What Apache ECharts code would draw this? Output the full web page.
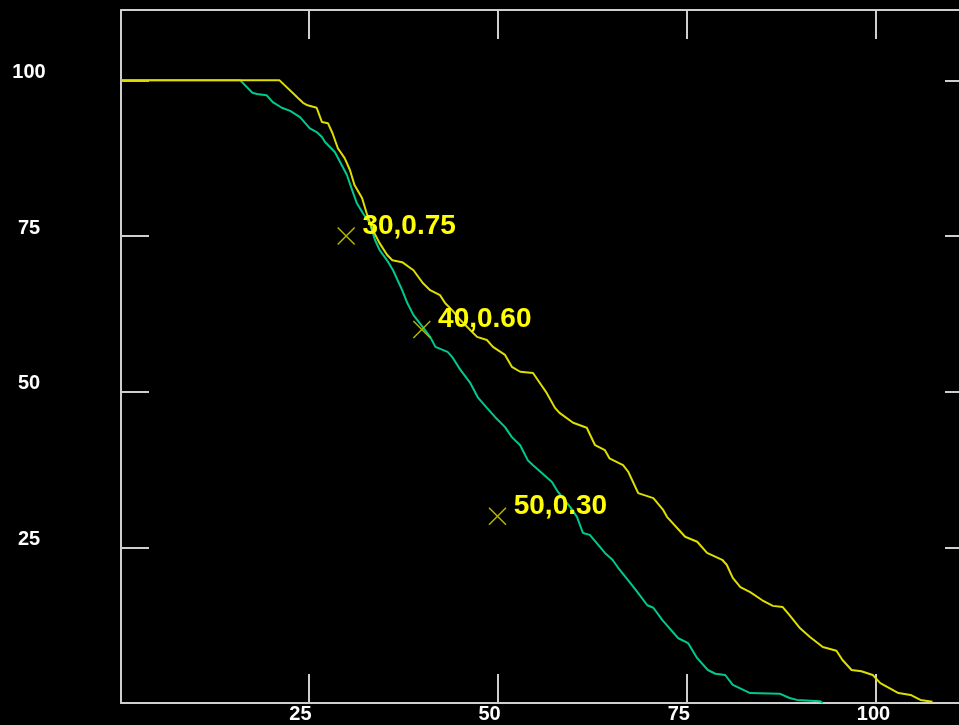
<!DOCTYPE html>
<html>
<head>
<meta charset="utf-8">
<script src="https://cdn.jsdelivr.net/npm/echarts@6/dist/echarts.min.js"></script>
<style>
html,body{margin:0;padding:0;background:#000;}
#chart{width:959px;height:725px;}
</style>
</head>
<body>
<div id="chart"></div>
<script>
// Yellow curve [x, y]
const yellowX = [0.24,21.2,23.6,24.3,24.9,26.1,26.8,27.6,28.2,28.9,29.8,30.5,31.1,32.1,32.7,33.5,34.4,35.4,36.1,37.4,38.9,40.1,41.1,42.4,43.1,44.0,45.1,46.4,47.3,48.6,49.4,51.0,51.9,53.0,54.7,55.6,56.5,57.6,58.2,60.0,61.8,62.9,64.2,64.8,66.6,67.3,68.6,70.6,71.9,72.4,74.2,74.8,76.4,77.7,79.7,80.3,81.1,82.1,83.4,85.0,86.4,87.7,88.6,90.0,91.3,93.0,94.8,95.6,96.8,98.1,99.6,100.6,101.5,103.0,104.6,105.9,107.5];
const yellowY = [100,100,97.2,96.4,96.0,95.6,93.3,93.1,91.5,89.1,87.5,85.6,83.2,81.1,78.7,76.0,73.9,72.0,71.1,70.8,69.5,67.5,66.3,65.5,64.2,63.1,61.5,59.9,58.8,58.3,57.2,55.9,54.0,53.2,53.0,51.4,49.8,47.4,46.6,45.0,44.2,41.4,40.6,39.3,38.2,37.1,33.7,32.9,31.0,29.9,27.5,26.7,25.9,24.1,23.0,22.2,20.1,18.6,17.8,16.5,15.6,15.4,14.1,12.0,10.6,9.0,8.4,6.9,5.3,5.1,4.5,3.2,2.6,1.6,1.3,0.5,0.2];
// Green curve [x, y]
const greenX = [0.24,16.0,17.6,18.2,19.5,20.3,21.5,22.6,23.9,25.2,26.1,26.8,27.2,28.5,29.2,30.1,30.7,31.4,32.2,33.1,33.8,34.4,35.4,36.2,37.4,38.1,38.9,40.1,41.1,41.8,43.4,44.0,45.1,46.4,47.4,48.6,49.7,51.0,51.9,53.0,54.0,54.7,55.9,57.2,58.0,59.6,60.5,61.3,62.2,63.1,64.2,65.2,65.9,67.2,68.5,69.8,70.6,71.8,72.6,73.9,75.2,76.4,77.8,78.8,80.1,81.1,82.5,83.4,87.3,88.6,89.6,92.6,93.0];
const greenY = [100,100,98.0,97.8,97.6,96.5,95.6,95.1,94.1,92.3,91.7,90.9,90.1,88.5,86.9,84.8,82.7,80.3,78.7,77.1,74.4,72.8,71.1,69.5,66.3,64.2,62.3,60.4,58.8,57.2,56.4,55.6,53.5,51.4,49.1,47.4,45.9,44.3,42.7,41.4,39.0,38.2,36.9,35.5,33.9,31.5,29.9,27.3,27.0,25.7,24.1,23.0,21.8,19.8,17.8,15.7,15.3,13.3,12.2,10.4,9.6,7.2,5.3,4.7,4.5,2.9,2.1,1.6,1.5,0.8,0.5,0.3,0];
// Annotated points
const annotX = [30,40,50];
const annotY = [75,60,30];
const annotLabels = ['30,0.75','40,0.60','50,0.30'];
// Axis ticks
const xTicks = [25,50,75,100];
const yTicks = [25,50,75,100];

const zip = (a,b) => a.map((v,i)=>[v,b[i]]);
const axisGray = '#cfcfcf';
const labelFont = {color:'#ffffff', fontFamily:'Liberation Sans', fontWeight:'bold', fontSize:20};
const xMin = 0.24, xMax = 111.0;

const chart = echarts.init(document.getElementById('chart'));
chart.setOption({
  backgroundColor:'#000000',
  animation:false,
  grid:{left:121, top:10, right:0, bottom:22, containLabel:false},
  xAxis:[{
    type:'value', position:'bottom', min:xMin, max:xMax,
    axisLine:{show:true, onZero:false, lineStyle:{color:axisGray, width:2}},
    axisTick:{show:true, inside:true, length:29, customValues:xTicks, lineStyle:{color:axisGray, width:2}},
    splitLine:{show:false},
    axisLabel:Object.assign({margin:1, align:'left', padding:[0,0,0,-19], customValues:xTicks,
      formatter:v => String(v)}, labelFont)
  },{
    type:'value', position:'top', min:xMin, max:xMax,
    axisLine:{show:true, onZero:false, lineStyle:{color:axisGray, width:2}},
    axisTick:{show:true, inside:true, length:29, customValues:xTicks, lineStyle:{color:axisGray, width:2}},
    splitLine:{show:false}, axisLabel:{show:false}
  }],
  yAxis:[{
    type:'value', position:'left', min:0, max:111.3, interval:25,
    axisLine:{show:true, onZero:false, lineStyle:{color:axisGray, width:2}},
    axisTick:{show:true, inside:true, length:28, lineStyle:{color:axisGray, width:2}},
    splitLine:{show:false},
    axisLabel:Object.assign({margin:92, align:'center', verticalAlign:'bottom', lineHeight:16,
      formatter:v => yTicks.includes(v) ? String(v) : '', showMinLabel:false, showMaxLabel:false}, labelFont)
  },{
    type:'value', position:'right', offset:14, min:0, max:111.3, interval:25,
    axisLine:{show:true, onZero:false, lineStyle:{color:axisGray, width:2}},
    axisTick:{show:true, inside:true, length:28, lineStyle:{color:axisGray, width:2}},
    splitLine:{show:false}, axisLabel:{show:false}
  }],
  series:[{
    type:'line', name:'green', data:zip(greenX, greenY), showSymbol:false, symbol:'none',
    lineStyle:{color:'#00c98f', width:2}, z:2
  },{
    type:'line', name:'yellow', data:zip(yellowX, yellowY), showSymbol:false, symbol:'none',
    lineStyle:{color:'#dede00', width:2}, z:3
  },{
    type:'scatter', name:'marks', data:zip(annotX, annotY).map((p,i)=>({value:p, name:annotLabels[i]})),
    symbol:'path://M0,0L10,10M10,0L0,10', symbolSize:17,
    itemStyle:{color:'rgba(0,0,0,0)', borderColor:'#b4b400', borderWidth:1.5, opacity:1},
    label:{show:true, position:'right', distance:7, offset:[0,-10], formatter:p => p.name, opacity:1,
      color:'#ffff00', fontFamily:'Liberation Sans', fontWeight:'bold', fontSize:28},
    emphasis:{disabled:true},
    z:4
  }]
});
</script>
</body>
</html>
